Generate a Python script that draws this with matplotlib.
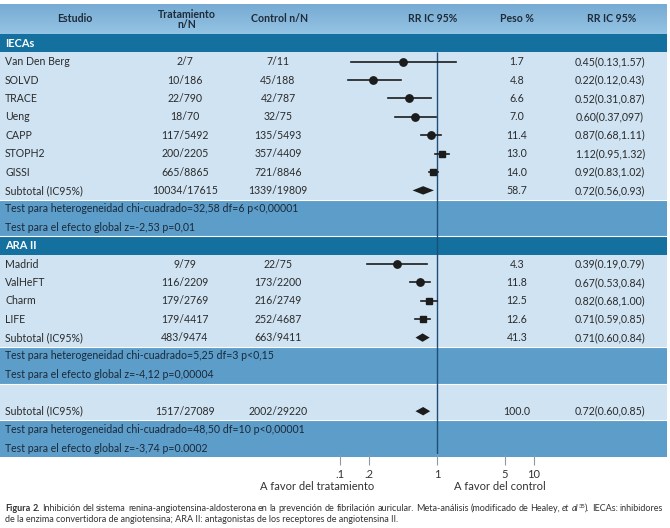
import numpy as np
import matplotlib
matplotlib.use("Agg")
import matplotlib.pyplot as plt
from matplotlib.patches import Rectangle
from matplotlib.colors import LinearSegmentedColormap

plt.rcParams['font.family'] = ['Lato', 'DejaVu Sans']

# ---- data ----
group_names = ["IECAs", "ARA II"]

ieca_names = ["Van Den Berg", "SOLVD", "TRACE", "Ueng", "CAPP", "STOPH2", "GISSI"]
ieca_trat = ["2/7", "10/186", "22/790", "18/70", "117/5492", "200/2205", "665/8865"]
ieca_ctrl = ["7/11", "45/188", "42/787", "32/75", "135/5493", "357/4409", "721/8846"]
ieca_peso = [1.7, 4.8, 6.6, 7.0, 11.4, 13.0, 14.0]
ieca_rr = [0.45, 0.22, 0.52, 0.60, 0.87, 1.12, 0.92]
ieca_lo = [0.13, 0.12, 0.31, 0.37, 0.68, 0.95, 0.83]
ieca_hi = [1.57, 0.43, 0.87, 0.97, 1.11, 1.32, 1.02]
ieca_rr_txt = ["0.45(0.13,1.57)", "0.22(0.12,0.43)", "0.52(0.31,0.87)", "0.60(0.37,097)",
               "0.87(0.68,1.11)", "1.12(0.95,1.32)", "0.92(0.83,1.02)"]
ieca_marker = ["o", "o", "o", "o", "o", "s", "s"]

ara_names = ["Madrid", "ValHeFT", "Charm", "LIFE"]
ara_trat = ["9/79", "116/2209", "179/2769", "179/4417"]
ara_ctrl = ["22/75", "173/2200", "216/2749", "252/4687"]
ara_peso = [4.3, 11.8, 12.5, 12.6]
ara_rr = [0.39, 0.67, 0.82, 0.71]
ara_lo = [0.19, 0.53, 0.68, 0.59]
ara_hi = [0.79, 0.84, 1.00, 0.85]
ara_rr_txt = ["0.39(0.19,0.79)", "0.67(0.53,0.84)", "0.82(0.68,1.00)", "0.71(0.59,0.85)"]
ara_marker = ["o", "o", "s", "s"]

# subtotals: IECAs, ARA II, total
sub_trat = ["10034/17615", "483/9474", "1517/27089"]
sub_ctrl = ["1339/19809", "663/9411", "2002/29220"]
sub_peso = [58.7, 41.3, 100.0]
sub_rr = [0.72, 0.71, 0.72]
sub_lo = [0.56, 0.60, 0.60]
sub_hi = [0.93, 0.84, 0.85]
sub_rr_txt = ["0.72(0.56,0.93)", "0.71(0.60,0.84)", "0.72(0.60,0.85)"]

tests_het = ["Test para heterogeneidad chi-cuadrado=32,58 df=6 p<0,00001",
             "Test para heterogeneidad chi-cuadrado=5,25 df=3 p<0,15",
             "Test para heterogeneidad chi-cuadrado=48,50 df=10 p<0,00001"]
tests_glob = ["Test para el efecto global z=-2,53 p=0,01",
              "Test para el efecto global z=-4,12 p=0,00004",
              "Test para el efecto global z=-3,74 p=0.0002"]

tick_vals = [0.1, 0.2, 1, 5, 10]
tick_txt = [".1", ".2", "1", "5", "10"]

cap_main = ("Inhibición del sistema renina-angiotensina-aldosterona en la prevención de "
            "fibrilación auricular. Meta-análisis (modificado de Healey,")
cap_line2 = ("de la enzima convertidora de angiotensina; ARA II: antagonistas de los "
             "receptores de angiotensina II.")

# ---- colours / layout ----
C_LIGHT = "#cfe3f2"
C_TEST = "#5d9dca"
C_DARK = "#13709f"
C_TXT = "#2b2b2b"
C_MARK = "#1c1c1c"
C_CAP = "#333333"
W_TABLE = 667
H = 18.4
TOP = 34
FS = 7.6

fig = plt.figure(figsize=(6.7, 5.28), dpi=100)
bg = fig.add_axes([0, 0, 1, 1])
bg.axis("off")

# forest axes on a log scale: 0.1 -> ~342px, 1 -> 437px, 10 -> ~535px
px_dec = 97.0
fx0, fx1, fbot = 335, 545, 454
fa = fig.add_axes([fx0 / 670, (528 - fbot) / 528, (fx1 - fx0) / 670, fbot / 528])
fa.set_xscale("log")
fa.set_xlim(10 ** ((fx0 - 437) / px_dec), 10 ** ((fx1 - 437) / px_dec))
fa.set_ylim(fbot, 0)
fa.patch.set_visible(False)
for s in fa.spines.values():
    s.set_visible(False)
fa.set_yticks([])
fa.set_xticks(tick_vals)
fa.set_xticklabels(tick_txt)
fa.minorticks_off()
fa.tick_params(axis="x", length=8, width=0.8, color="#8a9aa8", labelsize=8,
               labelcolor=C_CAP, pad=3)


def band(y0, h, color):
    bg.add_patch(Rectangle((0, y0), W_TABLE, h, color=color, lw=0, zorder=0))


def sep(y):
    bg.plot([0, W_TABLE], [y, y], color="white", lw=0.8, zorder=1)


def row_text(yc, name, trat, ctrl, peso, rrtxt):
    bg.text(5, yc, name, fontsize=FS, color=C_TXT, va="center", ha="left")
    bg.text(185, yc, trat, fontsize=FS, color=C_TXT, va="center", ha="center")
    bg.text(278, yc, ctrl, fontsize=FS, color=C_TXT, va="center", ha="center")
    bg.text(517, yc, f"{peso:.1f}", fontsize=FS, color=C_TXT, va="center", ha="center")
    bg.text(610, yc, rrtxt, fontsize=FS, color=C_TXT, va="center", ha="center")


def diamond(yc, rr, lo, hi):
    fa.fill([lo, rr, hi, rr], [yc, yc - 4.2, yc, yc + 4.2], color=C_MARK, lw=0, zorder=5)


def test_rows(y0, k):
    band(y0, 2 * H, C_TEST)
    bg.text(5, y0 + H / 2, tests_het[k], fontsize=FS, color="#1b2a38", va="center")
    bg.text(5, y0 + 1.5 * H, tests_glob[k], fontsize=FS, color="#1b2a38", va="center")
    return y0 + 2 * H


def group_block(y0, k, names, trat, ctrl, peso, rr, lo, hi, rrtxt, mark):
    band(y0, H, C_DARK)
    if k > 0:
        sep(y0)
    bg.text(5, y0 + H / 2, group_names[k], fontsize=FS + 0.3, fontweight="bold",
            color="white", va="center")
    y0 += H
    n = len(names)
    band(y0, (n + 1) * H, C_LIGHT)
    for i in range(n):
        yc = y0 + (i + 0.5) * H
        row_text(yc, names[i], trat[i], ctrl[i], peso[i], rrtxt[i])
        fa.plot([lo[i], hi[i]], [yc, yc], color=C_MARK, lw=1.2, zorder=4)
        fa.plot(rr[i], yc, marker=mark[i], ms=5.3 if mark[i] == "o" else 4.8,
                color=C_MARK, zorder=5, ls="none")
    yc = y0 + (n + 0.5) * H
    row_text(yc, "Subtotal (IC95%)", sub_trat[k], sub_ctrl[k], sub_peso[k], sub_rr_txt[k])
    diamond(yc, sub_rr[k], sub_lo[k], sub_hi[k])
    y0 += (n + 1) * H
    sep(y0)
    return test_rows(y0, k)


# header with a soft gradient
hdr = LinearSegmentedColormap.from_list("hdr", ["#77abd3", "#95c4e4"])
bg.imshow(np.linspace(0, 1, 40)[:, None], extent=[0, W_TABLE, TOP, 4], origin="upper",
          cmap=hdr, aspect="auto", zorder=0)
hkw = dict(fontsize=FS, fontweight="bold", color="#1e2b38", va="center", ha="center")
bg.text(75, 19, "Estudio", **hkw)
bg.text(187, 19.5, "Tratamiento\nn/N", linespacing=1.0, **hkw)
bg.text(280, 19, "Control n/N", **hkw)
bg.text(433, 19, "RR IC 95%", **hkw)
bg.text(517, 19, "Peso %", **hkw)
bg.text(612, 19, "RR IC 95%", **hkw)

y = TOP
y = group_block(y, 0, ieca_names, ieca_trat, ieca_ctrl, ieca_peso, ieca_rr, ieca_lo,
                ieca_hi, ieca_rr_txt, ieca_marker)
y = group_block(y, 1, ara_names, ara_trat, ara_ctrl, ara_peso, ara_rr, ara_lo,
                ara_hi, ara_rr_txt, ara_marker)

# overall
band(y, 2 * H, C_LIGHT)
sep(y)
yc = y + 1.5 * H
row_text(yc, "Subtotal (IC95%)", sub_trat[2], sub_ctrl[2], sub_peso[2], sub_rr_txt[2])
diamond(yc, sub_rr[2], sub_lo[2], sub_hi[2])
y += 2 * H
sep(y)
y = test_rows(y, 2)

# line of no effect
fa.vlines(1, TOP + H, y, color="#1d4e78", lw=1.0, zorder=3)

bg.text(317, 486, "A favor del tratamiento", fontsize=8, color=C_CAP, ha="center", va="center")
bg.text(500, 486, "A favor del control", fontsize=8, color=C_CAP, ha="center", va="center")

bg.set_xlim(0, 670)
bg.set_ylim(528, 0)

# caption, first line justified between x=5 and x=663
cfs = 6.5
words = [[("Figura", "bold")], [("2.", "bold")]]
words += [[(w, "normal")] for w in cap_main.split()]
words += [[("et", "italic")], [("al", "italic"), ("35", "sup"), (").", "normal")],
          [("IECAs:", "normal")], [("inhibidores", "normal")]]

arts = []
for wd in words:
    row = []
    for txt, st in wd:
        kw = dict(fontsize=cfs, color=C_CAP, va="baseline", ha="left")
        yy = 511
        if st == "bold":
            kw["fontweight"] = "bold"
        elif st == "italic":
            kw["style"] = "italic"
        elif st == "sup":
            kw["fontsize"] = 4.2
            yy = 507.5
        row.append(bg.text(0, yy, txt, **kw))
    arts.append(row)

fig.canvas.draw()
rend = fig.canvas.get_renderer()
widths = [[t.get_window_extent(rend).width for t in row] for row in arts]
total = sum(sum(w) for w in widths)
gap = (663 - 5 - total) / (len(arts) - 1)
x = 5
for row, ws in zip(arts, widths):
    for t, w in zip(row, ws):
        t.set_x(x)
        x += w
    x += gap

bg.text(5, 522, cap_line2, fontsize=cfs, color=C_CAP, va="baseline")

fig.savefig("out.png", dpi=100)
